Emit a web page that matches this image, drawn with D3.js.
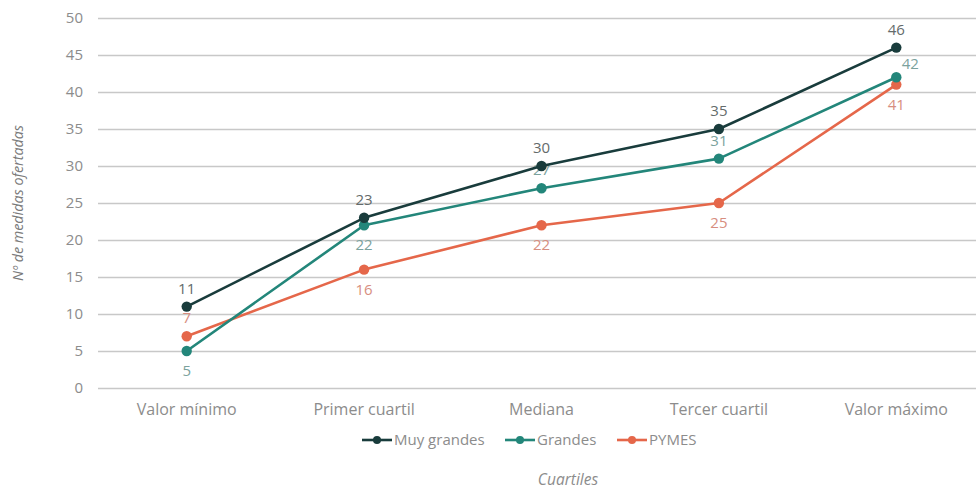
<!DOCTYPE html>
<html>
<head>
<meta charset="utf-8">
<script src="https://cdn.jsdelivr.net/npm/d3@7"></script>
<style>
  html, body { margin: 0; padding: 0; background: #fff; }
  svg { display: block; font-family: "Open Sans", sans-serif; }
</style>
</head>
<body>
<svg id="chart" width="976" height="489"></svg>
<script>
// Number of measures offered, by company size, per quartile
const categories = ["Valor mínimo", "Primer cuartil", "Mediana", "Tercer cuartil", "Valor máximo"];
const seriesNames = ["Muy grandes", "Grandes", "PYMES"];
const muyGrandes = [11, 23, 30, 35, 46];
const grandes = [5, 22, 27, 31, 42];
const pymes = [7, 16, 22, 25, 41];
const yTicks = [0, 5, 10, 15, 20, 25, 30, 35, 40, 45, 50];

const series = [
  { name: seriesNames[0], values: muyGrandes, color: "#193c3c", labelColor: "#646b6b",
    place: ["above", "above", "above", "above", "above"] },
  { name: seriesNames[1], values: grandes, color: "#23867a", labelColor: "#7ba29d",
    place: ["below", "below", "above", "above", "aboveRight"] },
  { name: seriesNames[2], values: pymes, color: "#e5674a", labelColor: "#d78e80",
    place: ["above", "below", "below", "below", "below"] }
];

const svg = d3.select("#chart");
const margin = { left: 98, right: -9, top: 18, bottom: 101 };
const W = 976, H = 489;
const textGray = "#8c8c8c";

const x = d3.scaleBand().domain(categories).range([margin.left, W - margin.right]).padding(0);
const cx = d => x(d) + x.bandwidth() / 2;
const y = d3.scaleLinear().domain([0, 50]).range([H - margin.bottom, margin.top]);

// Horizontal gridlines with tick labels
const yAxis = d3.axisLeft(y).tickValues(yTicks).tickSize(-(W - margin.left)).tickPadding(15);
const gy = svg.append("g").attr("transform", `translate(${margin.left},0)`).call(yAxis);
gy.select(".domain").remove();
gy.selectAll(".tick line").attr("stroke", "#c8c8c8").attr("stroke-width", 1.6);
gy.selectAll(".tick text").attr("fill", textGray).attr("font-size", 15).attr("font-family", "Open Sans");

// Category labels
const xAxis = d3.axisBottom(x).tickSize(0).tickPadding(16);
const gx = svg.append("g").attr("transform", `translate(0,${y(0)})`).call(xAxis);
gx.select(".domain").remove();
gx.selectAll(".tick text").attr("fill", textGray).attr("font-size", 16).attr("font-family", "Open Sans");

// Axis titles
svg.append("text")
  .attr("transform", `translate(23,${(y(0) + y(50)) / 2}) rotate(-90)`)
  .attr("text-anchor", "middle").attr("font-style", "italic")
  .attr("font-size", 14.3).attr("fill", "#7a7a7a")
  .text("Nº de medidas ofertadas");
svg.append("text")
  .attr("x", 568).attr("y", 485)
  .attr("text-anchor", "middle").attr("font-style", "italic")
  .attr("font-size", 15.5).attr("fill", textGray)
  .text("Cuartiles");

// Value labels (drawn beneath the lines)
const labels = svg.append("g");
series.forEach(s => {
  s.values.forEach((v, i) => {
    const p = s.place[i];
    let dx = 0, dy = -13;
    if (p === "below") dy = 25;
    if (p === "aboveRight") { dx = 14; dy = -8; }
    labels.append("text")
      .attr("x", cx(categories[i]) + dx)
      .attr("y", y(v) + dy)
      .attr("text-anchor", "middle")
      .attr("font-size", 15)
      .attr("fill", s.labelColor)
      .text(v);
  });
});

// Lines and markers
const line = d3.line().x((d, i) => cx(categories[i])).y(d => y(d));
const order = [2, 1, 0];
order.forEach(k => {
  const s = series[k];
  svg.append("path").datum(s.values)
    .attr("d", line).attr("fill", "none")
    .attr("stroke", s.color).attr("stroke-width", 2.6)
    .attr("stroke-linejoin", "round");
  svg.append("g").selectAll("circle").data(s.values).join("circle")
    .attr("cx", (d, i) => cx(categories[i]))
    .attr("cy", d => y(d))
    .attr("r", 5.2)
    .attr("fill", s.color);
});

// Legend
const legendX = [362, 505, 617];
const legend = svg.append("g").attr("transform", `translate(0,440)`);
series.forEach((s, i) => {
  const g = legend.append("g").attr("transform", `translate(${legendX[i]},0)`);
  g.append("line").attr("x1", 0).attr("x2", 30).attr("y1", 0).attr("y2", 0)
    .attr("stroke", s.color).attr("stroke-width", 2.6);
  g.append("circle").attr("cx", 15).attr("cy", 0).attr("r", 4).attr("fill", s.color);
  g.append("text").attr("x", 32).attr("y", 0).attr("dy", "0.35em")
    .attr("font-size", 15).attr("fill", textGray).text(s.name);
});
</script>
</body>
</html>
